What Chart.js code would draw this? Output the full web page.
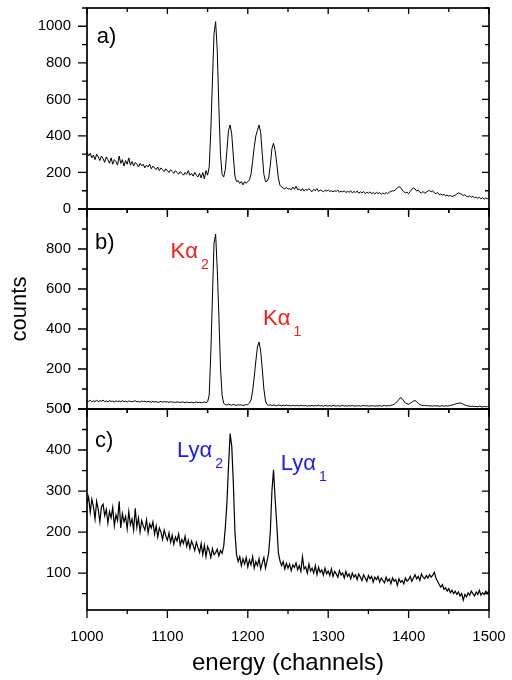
<!DOCTYPE html>
<html><head><meta charset="utf-8">
<script src="https://cdn.jsdelivr.net/npm/chart.js@4.4.1/dist/chart.umd.min.js"></script>
<style>
html,body{margin:0;padding:0;background:#fff;}
#wrap{position:relative;width:512px;height:680px;overflow:hidden;}
#wrap canvas{position:absolute;left:0;top:0;}
</style></head><body>
<div id="wrap">
<canvas id="ca" width="512" height="680"></canvas>
<canvas id="cb" width="512" height="680"></canvas>
<canvas id="cc" width="512" height="680"></canvas>
</div>
<script>
// ---- data (channel grid: 1000..1500, step 2) ----
const CH_START = 1000, CH_STEP = 2;
const countsA = [
315,290,305,280,295,270,300,285,265,290,
275,255,285,270,250,280,245,270,260,240,
290,250,270,235,265,245,280,240,260,235,
255,245,230,250,235,245,225,240,230,245,
220,235,225,215,230,210,225,215,205,220,
210,200,215,205,195,210,200,190,205,195,
185,200,190,210,185,195,180,200,185,175,
195,170,200,165,210,185,230,430,700,960,
1025,870,560,300,190,175,215,320,430,460,
410,290,180,150,155,140,150,132,150,140,
150,160,190,260,340,400,430,460,420,300,
190,150,152,170,240,330,360,320,250,170,
130,120,115,110,118,108,112,105,120,108,
125,105,110,100,112,98,108,102,112,100,
95,108,100,112,96,104,100,95,102,98,
104,96,100,94,100,96,104,92,98,94,
100,90,96,92,100,88,96,90,98,86,
94,88,96,84,92,86,94,84,90,82,
92,84,90,80,88,82,90,84,92,96,
100,98,108,115,122,118,104,95,88,92,
84,96,108,115,110,98,104,92,88,96,
86,92,98,102,94,100,88,84,90,78,
82,76,80,72,76,70,74,68,72,76,
82,88,84,80,74,78,70,66,72,64,
70,60,66,58,64,56,62,54,60,56,
64];
const countsB = [
42,38,44,36,40,38,43,37,41,39,
44,37,40,36,42,38,39,35,41,37,
40,36,42,37,39,35,40,38,36,39,
41,36,38,34,40,37,39,35,38,36,
34,38,35,37,33,36,38,34,37,35,
36,33,37,34,35,32,36,34,33,35,
34,31,35,33,32,34,31,33,35,32,
34,31,33,35,32,36,70,280,560,830,
875,700,470,210,70,28,22,20,24,21,
19,23,20,18,22,19,21,17,20,22,
22,30,45,90,160,240,310,335,290,200,
100,40,22,18,21,17,20,19,16,20,
18,16,19,17,20,16,18,15,19,17,
16,18,15,19,17,16,18,14,17,16,
18,15,17,16,19,15,17,14,18,16,
15,17,14,18,16,15,17,14,16,18,
15,16,14,17,15,18,14,16,15,17,
14,16,18,15,17,14,16,15,17,14,
16,15,17,14,16,18,15,17,16,19,
20,24,30,38,48,57,52,40,30,26,
24,28,34,40,42,36,28,22,19,17,
18,16,17,15,16,14,17,15,16,14,
15,17,14,16,15,16,18,20,22,25,
27,29,30,28,24,20,17,15,14,13,
14,12,13,11,14,12,10,13,11,12,
13];
const countsC = [
270,285,248,280,262,232,275,255,225,262,
268,240,255,222,250,235,260,215,242,228,
275,210,245,225,238,208,250,218,232,205,
258,212,235,200,228,215,205,230,198,220,
210,225,195,215,188,210,200,182,205,190,
180,198,175,192,170,188,178,195,168,182,
172,190,165,180,160,178,168,155,175,162,
150,172,145,168,140,165,155,138,160,145,
150,158,142,155,148,165,210,270,360,440,
410,320,200,145,128,140,118,135,122,138,
115,132,120,140,112,128,118,135,110,125,
138,112,130,150,200,300,352,280,220,150,
130,118,128,110,124,112,122,106,120,114,
125,108,118,104,140,110,115,100,122,105,
112,100,118,96,114,102,108,95,112,98,
105,94,110,92,104,98,90,106,95,100,
88,104,92,98,86,100,90,96,84,98,
90,82,96,88,80,94,86,92,78,90,
84,92,78,88,82,76,90,80,86,74,
88,80,84,70,86,78,82,74,88,80,
84,92,80,88,96,86,92,82,98,90,
86,94,88,96,90,95,102,88,80,72,
66,72,60,64,56,62,52,58,50,56,
48,54,44,50,34,48,42,52,46,56,
50,44,54,48,58,46,52,48,56,50,
58];
const xTicks  = [1000,1100,1200,1300,1400,1500];
const yTicksA = [0,200,400,600,800,1000];
const yTicksB = [0,200,400,600,800];
const yTicksC = [100,200,300,400,500];
const xTitle = 'energy (channels)';
const yTitle = 'counts';
const panelNames = ['a)','b)','c)'];
const lineNames = [
  {panel:1, text:'Kα',  sub:'2', ch:1104, v:755, color:'#ff1a1a'},
  {panel:1, text:'Kα',  sub:'1', ch:1219, v:420, color:'#ff1a1a'},
  {panel:2, text:'Lyα', sub:'2', ch:1112, v:383, color:'#1a1aff'},
  {panel:2, text:'Lyα', sub:'1', ch:1241, v:351, color:'#1a1aff'}
];
const panelNamePos = [{ch:1012,v:906},{ch:1010,v:802},{ch:1010,v:407}];

const channels = countsA.map((_, i) => CH_START + i * CH_STEP);
const FONT = '"Liberation Sans", Arial, Helvetica, sans-serif';
Chart.defaults.font.family = FONT;
Chart.defaults.color = '#000';

function noPad(s) { s.paddingLeft = 0; s.paddingRight = 0; s.paddingTop = 0; s.paddingBottom = 0; }

const frameTicks = {
  id: 'frameTicks',
  afterDatasetsDraw(chart, args, o) {
    const {ctx, chartArea: {left, right, top, bottom}, scales: {x, y}} = chart;
    ctx.save();
    ctx.strokeStyle = '#000';
    ctx.lineWidth = 1.3;
    ctx.beginPath();
    for (let v = x.min; v <= x.max + 1e-6; v += o.xMinor) {
      const px = x.getPixelForValue(v);
      const major = Math.abs(v % o.xMajor) < 1e-6;
      ctx.moveTo(px, bottom); ctx.lineTo(px, bottom + (major ? 8 : 4));
      ctx.moveTo(px, top); ctx.lineTo(px, top + (major ? 6 : 4));
    }
    for (let v = Math.ceil(y.min / o.yMinor) * o.yMinor; v <= y.max + 1e-6; v += o.yMinor) {
      const py = y.getPixelForValue(v);
      const major = Math.abs(v % o.yMajor) < 1e-6;
      ctx.moveTo(left, py); ctx.lineTo(left - (major ? 9 : 5), py);
      ctx.moveTo(right, py); ctx.lineTo(right - (major ? 7 : 4), py);
    }
    ctx.stroke();
    ctx.lineWidth = 1.7;
    ctx.strokeRect(left, top, right - left, bottom - top);
    ctx.restore();
  }
};

const notes = {
  id: 'notes',
  afterDraw(chart, args, o) {
    const {ctx, scales: {x, y}} = chart;
    ctx.save();
    ctx.textAlign = 'left';
    ctx.textBaseline = 'alphabetic';
    (o.items || []).forEach(it => {
      const px = x.getPixelForValue(it.ch), py = y.getPixelForValue(it.v);
      ctx.fillStyle = it.color;
      ctx.font = '22px ' + FONT;
      ctx.fillText(it.text, px, py);
      if (it.sub) {
        const w = ctx.measureText(it.text).width;
        ctx.font = '14px ' + FONT;
        ctx.fillText(it.sub, px + w + 3, py + 11);
      }
    });
    ctx.restore();
  }
};

function makePanel(id, idx, values, yMin, yMax, yTicks, yMinor, yMajor, pad, showX, showYTitle, lw) {
  const items = [{text: panelNames[idx], ch: panelNamePos[idx].ch, v: panelNamePos[idx].v, color: '#000'}]
    .concat(lineNames.filter(l => l.panel === idx));
  return new Chart(document.getElementById(id), {
    type: 'line',
    data: {
      datasets: [{
        data: values.map((v, i) => ({x: channels[i], y: v})),
        borderColor: '#000', borderWidth: lw, pointRadius: 0, tension: 0, fill: false
      }]
    },
    options: {
      responsive: false, animation: false, devicePixelRatio: 1,
      layout: {padding: {left: 0, right: 23, top: pad.top, bottom: pad.bottom}},
      plugins: {
        legend: {display: false}, tooltip: {enabled: false},
        frameTicks: {xMinor: 50, xMajor: 100, yMinor: yMinor, yMajor: yMajor},
        notes: {items: items}
      },
      scales: {
        x: {
          type: 'linear', min: 1000, max: 1500, display: showX,
          afterBuildTicks: s => { s.ticks = xTicks.map(v => ({value: v})); },
          grid: {display: false}, border: {display: false},
          ticks: {padding: 10, font: {size: 15}, color: '#000', maxRotation: 0, autoSkip: false, callback: v => String(v)},
          title: {display: showX, text: xTitle, font: {size: 24}, color: '#000', padding: {top: 0, bottom: 2}},
          afterFit: s => { s.height = showX ? 70 : 0; noPad(s); }
        },
        y: {
          type: 'linear', min: yMin, max: yMax,
          afterBuildTicks: s => { s.ticks = yTicks.map(v => ({value: v})); },
          grid: {display: false}, border: {display: false},
          ticks: {padding: 8, font: {size: 15}, color: '#000', autoSkip: false, callback: v => String(v)},
          title: {display: showYTitle, text: yTitle, font: {size: 22}, color: '#000', padding: {top: 7, bottom: 0}},
          afterFit: s => { s.width = 87; noPad(s); }
        }
      }
    },
    plugins: [frameTicks, notes]
  });
}

makePanel('ca', 0, countsA, 0, 1100, yTicksA, 100, 200, {top: 8, bottom: 471}, false, false, 1);
makePanel('cb', 1, countsB, 0, 1000, yTicksB, 100, 200, {top: 209, bottom: 271}, false, true, 1);
makePanel('cc', 2, countsC, 10, 500, yTicksC, 50, 100, {top: 409, bottom: 0}, true, false, 1.2);
</script>
</body></html>
